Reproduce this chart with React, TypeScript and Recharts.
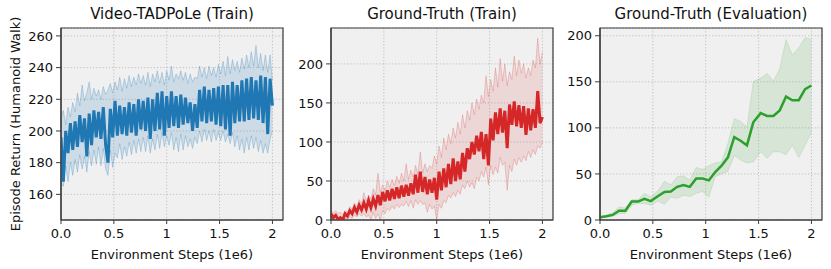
import React from "react";
import {
  ComposedChart,
  Line,
  Area,
  XAxis,
  YAxis,
  CartesianGrid,
  ReferenceArea,
} from "recharts";

// ---------- data ----------
const X_TICKS = [0, 0.5, 1, 1.5, 2];
const X_TICK_LABELS = ["0.0", "0.5", "1", "1.5", "2"];

const TITLES = ["Video-TADPoLe (Train)", "Ground-Truth (Train)", "Ground-Truth (Evaluation)"];
const Y_LABEL = "Episode Return (Humanoid Walk)";
const X_LABEL = "Environment Steps (1e6)";

// training curves: 91 logged points over 0 .. 2.0 (1e6 steps)
const TRAIN_LAST_STEP = 2;

const VIDEO_MEAN = [
  196, 168, 200, 186, 205, 188, 206, 190, 210, 193, 208, 184, 211, 191, 213, 196, 212, 195, 215, 191,
  180, 214, 196, 219, 197, 216, 198, 215, 197, 218, 199, 217, 197, 220, 201, 219, 200, 221, 195, 220,
  200, 224, 201, 225, 197, 222, 202, 225, 203, 222, 202, 223, 204, 221, 205, 218, 200, 217, 202, 226,
  206, 228, 205, 226, 206, 227, 204, 228, 203, 229, 201, 229, 197, 231, 205, 229, 206, 232, 206, 233,
  207, 234, 208, 232, 207, 235, 205, 234, 198, 233, 216,
];
const VIDEO_HIGH = [
  208, 213, 204, 215, 209, 218, 212, 224, 216, 229, 219, 224, 231, 220, 227, 222, 226, 220, 228, 223,
  226, 230, 224, 231, 226, 234, 225, 233, 227, 235, 228, 234, 229, 236, 230, 235, 229, 237, 228, 236,
  231, 238, 230, 237, 229, 238, 232, 241, 231, 236, 233, 238, 232, 237, 230, 236, 231, 234, 233, 241,
  234, 240, 233, 241, 235, 240, 234, 242, 236, 244, 235, 247, 236, 245, 238, 244, 237, 246, 239, 248,
  240, 250, 241, 254, 240, 249, 238, 248, 237, 248, 232,
];
const VIDEO_LOW = [
  167, 165, 178, 168, 180, 172, 182, 174, 185, 176, 184, 174, 187, 178, 188, 179, 190, 178, 189, 176,
  172, 188, 177, 186, 183, 192, 182, 190, 184, 193, 185, 194, 186, 195, 187, 196, 187, 197, 186, 195,
  188, 198, 189, 199, 190, 197, 191, 199, 188, 196, 187, 198, 188, 197, 190, 195, 189, 196, 192, 200,
  193, 201, 194, 200, 193, 201, 194, 199, 194, 200, 193, 198, 192, 199, 190, 197, 188, 195, 186, 196,
  188, 197, 189, 196, 187, 194, 186, 192, 186, 195, 200,
];

const GT_TRAIN_MEAN = [
  8, 3, 6, 1, 3, 0, 8, 5, 12, 8, 16, 10, 19, 13, 22, 14, 25, 16, 27, 18,
  32, 19, 36, 24, 38, 25, 40, 27, 42, 28, 44, 30, 45, 31, 47, 33, 58, 35, 62, 36,
  55, 33, 52, 35, 54, 26, 62, 38, 66, 42, 72, 46, 79, 50, 75, 52, 86, 62, 92, 78,
  100, 84, 108, 88, 113, 78, 110, 70, 130, 102, 138, 110, 143, 112, 140, 92, 148, 122, 152, 120,
  147, 118, 146, 109, 143, 115, 142, 118, 165, 124, 132,
];
const GT_TRAIN_HIGH = [
  12, 9, 12, 8, 10, 7, 12, 10, 17, 14, 22, 17, 26, 21, 35, 24, 32, 27, 40, 32,
  60, 35, 45, 38, 50, 42, 52, 44, 56, 47, 60, 50, 72, 52, 64, 55, 70, 58, 87, 60,
  72, 62, 70, 66, 82, 72, 95, 80, 105, 90, 110, 98, 118, 105, 125, 110, 135, 118, 140, 128,
  150, 135, 155, 142, 160, 150, 185, 158, 180, 165, 195, 170, 207, 178, 200, 172, 190, 180, 210, 185,
  205, 188, 200, 182, 195, 185, 205, 195, 233, 200, 215,
];
const GT_TRAIN_LOW = [
  2, 0, 1, 0, 0, 0, 2, 1, 4, 2, 6, 4, 8, 5, 8, 4, 6, 0, 10, 2,
  8, 0, 12, 8, 15, 12, 18, 14, 20, 16, 20, 18, 24, 17, 25, 15, 26, 20, 25, 20,
  22, 10, 20, 14, 18, 0, 20, 15, 25, 22, 32, 28, 35, 30, 38, 33, 45, 40, 50, 42,
  48, 40, 55, 50, 62, 55, 68, 45, 70, 58, 68, 60, 80, 70, 74, 38, 70, 62, 78, 70,
  80, 74, 82, 76, 88, 80, 90, 84, 95, 92, 100,
];

// evaluation curve
const EVAL_STEPS = [
  0, 0.06, 0.12, 0.18, 0.24, 0.3, 0.36, 0.42, 0.48, 0.55, 0.61, 0.67, 0.73, 0.79, 0.85, 0.91, 0.97,
  1.03, 1.09, 1.15, 1.21, 1.27, 1.33, 1.39, 1.45, 1.52, 1.58, 1.64, 1.7, 1.76, 1.82, 1.88, 1.94, 2.0,
];
const EVAL_MEAN = [
  3, 4, 5.5, 10, 10, 20, 20, 23, 20.5, 26, 30.5, 31, 36, 38, 36, 45, 45,
  43, 52, 59, 68, 90, 86, 81, 106, 116, 113, 113, 119, 134, 130, 130, 142, 146,
];
const EVAL_LOW = [
  2, 3, 4, 7, 7, 16, 18, 18, 16, 20.5, 17, 25, 23.5, 27, 25.5, 29, 31,
  25, 47, 50, 53, 70, 65, 62, 63, 74, 67, 74, 74, 71, 81, 68, 81, 95,
];
const EVAL_HIGH = [
  4, 5, 8, 14, 13, 22, 22, 29, 25, 32, 42, 38, 47, 48, 43.5, 57, 55,
  59, 62, 63, 83, 110, 107, 101, 150, 154, 159, 151, 164, 196, 179, 187, 198, 196,
];

// ---------- tables ----------
const trainTable = (mean: number[], lo: number[], hi: number[]) =>
  mean.map((m, i) => ({
    x: (i * TRAIN_LAST_STEP) / (mean.length - 1),
    m,
    lo: lo[i],
    hi: hi[i],
  }));

const videoData = trainTable(VIDEO_MEAN, VIDEO_LOW, VIDEO_HIGH);
const gtTrainData = trainTable(GT_TRAIN_MEAN, GT_TRAIN_LOW, GT_TRAIN_HIGH);
const evalData = EVAL_STEPS.map((x, i) => ({ x, m: EVAL_MEAN[i], lo: EVAL_LOW[i], hi: EVAL_HIGH[i] }));

// ---------- styling ----------
const FONT = "DejaVu Sans";
const SPINE = "#3c3c3c";
const W = 831;
const H = 269;
const PLOT_TOP = 28;
const PLOT_BOTTOM = 220;
const X_MAX = 2.1;

type PanelProps = {
  data: any[];
  left: number;
  width: number;
  yAxisWidth: number;
  right: number;
  yDomain: [number, number];
  yTicks: number[];
  color: string;
  bandFill: number;
  bandStroke: number;
  meanWidth: number;
};

const fmtX = (v: number) => {
  const i = X_TICKS.indexOf(v);
  return i >= 0 ? X_TICK_LABELS[i] : String(v);
};

const Panel = (p: PanelProps) => (
  <div style={{ position: "absolute", left: p.left, top: 0, width: p.width, height: H }}>
    <ComposedChart
      width={p.width}
      height={H}
      data={p.data}
      margin={{ top: PLOT_TOP, right: p.right, left: 0, bottom: 0 }}
    >
      <CartesianGrid
        fill="#f0f0f0"
        stroke="#b4b4b4"
        strokeDasharray="1.2 2"
        strokeWidth={0.8}
      />
      <XAxis
        dataKey="x"
        type="number"
        domain={[0, X_MAX]}
        ticks={X_TICKS}
        tickFormatter={fmtX}
        allowDataOverflow
        height={H - PLOT_BOTTOM}
        tickSize={4}
        tickMargin={5}
        axisLine={{ stroke: SPINE, strokeWidth: 1.2 }}
        tickLine={{ stroke: SPINE, strokeWidth: 1 }}
        tick={{ fill: "#111", fontSize: 13, fontFamily: FONT }}
        label={{
          value: X_LABEL,
          position: "insideBottom",
          offset: 10,
          fill: "#111",
          fontSize: 13,
          fontFamily: FONT,
        }}
      />
      <YAxis
        type="number"
        domain={p.yDomain}
        ticks={p.yTicks}
        allowDataOverflow
        width={p.yAxisWidth}
        tickSize={5}
        tickMargin={3}
        axisLine={{ stroke: SPINE, strokeWidth: 1.2 }}
        tickLine={{ stroke: SPINE, strokeWidth: 1 }}
        tick={{ fill: "#111", fontSize: 13, fontFamily: FONT }}
      />
      <Area
        dataKey={(d: any) => [d.lo, d.hi]}
        type="linear"
        stroke={p.color}
        strokeOpacity={p.bandStroke}
        strokeWidth={1}
        fill={p.color}
        fillOpacity={p.bandFill}
        dot={false}
        activeDot={false}
        isAnimationActive={false}
      />
      <Line
        dataKey="m"
        type="linear"
        stroke={p.color}
        strokeWidth={p.meanWidth}
        dot={false}
        activeDot={false}
        isAnimationActive={false}
      />
      <ReferenceArea
        x1={0}
        x2={X_MAX}
        y1={p.yDomain[0]}
        y2={p.yDomain[1]}
        fill="none"
        fillOpacity={0}
        stroke={SPINE}
        strokeWidth={1.2}
        ifOverflow="visible"
      />
    </ComposedChart>
  </div>
);

const textStyle = { fontFamily: FONT, fill: "#111" } as const;

export default function App() {
  return (
    <div style={{ position: "absolute", left: 0, top: 0, width: W, height: H, background: "#fff" }}>
      <Panel
        data={videoData}
        left={0}
        width={300}
        yAxisWidth={61}
        right={17}
        yDomain={[143.8, 265]}
        yTicks={[160, 180, 200, 220, 240, 260]}
        color="#1f77b4"
        bandFill={0.17}
        bandStroke={0.25}
        meanWidth={3}
      />
      <Panel
        data={gtTrainData}
        left={280}
        width={290}
        yAxisWidth={51}
        right={17}
        yDomain={[0, 246]}
        yTicks={[0, 50, 100, 150, 200]}
        color="#d62728"
        bandFill={0.13}
        bandStroke={0.22}
        meanWidth={3}
      />
      <Panel
        data={evalData}
        left={555}
        width={276}
        yAxisWidth={45}
        right={9}
        yDomain={[0, 208.4]}
        yTicks={[0, 50, 100, 150, 200]}
        color="#2ca02c"
        bandFill={0.12}
        bandStroke={0.15}
        meanWidth={2.5}
      />
      <svg
        width={W}
        height={H}
        style={{ position: "absolute", left: 0, top: 0, pointerEvents: "none" }}
      >
        <text x={172} y={19} textAnchor="middle" fontSize={15} style={textStyle}>
          {TITLES[0]}
        </text>
        <text x={442} y={19} textAnchor="middle" fontSize={15} style={textStyle}>
          {TITLES[1]}
        </text>
        <text x={711} y={19} textAnchor="middle" fontSize={15} style={textStyle}>
          {TITLES[2]}
        </text>
        <text
          x={19.5}
          y={124}
          textAnchor="middle"
          fontSize={13}
          transform="rotate(-90 19.5 124)"
          style={textStyle}
        >
          {Y_LABEL}
        </text>
      </svg>
    </div>
  );
}
